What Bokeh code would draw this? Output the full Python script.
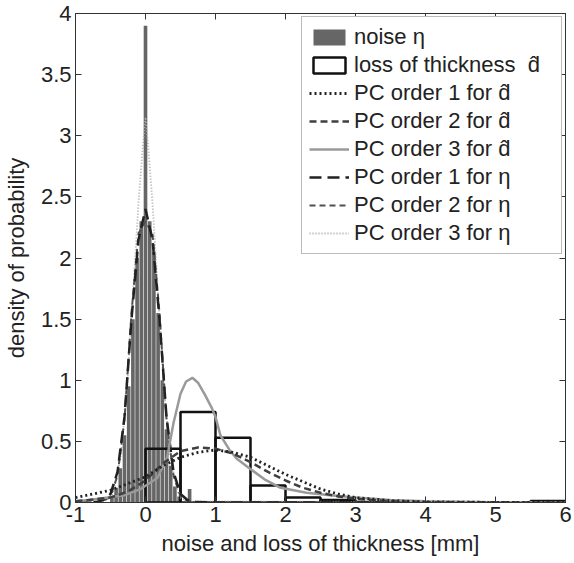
from bokeh.plotting import figure
from bokeh.models import (Range1d, FixedTicker, LinearAxis, Legend, LegendItem,
                          CustomJSTickFormatter)
from bokeh.embed import file_html
from bokeh.resources import INLINE

# ---------------- data ----------------
noise_x = [-0.48, -0.42, -0.36, -0.30, -0.24, -0.18, -0.12, -0.06, 0.0,
           0.06, 0.12, 0.18, 0.24, 0.30, 0.36, 0.42, 0.48, 0.63]
noise_y = [0.04, 0.12, 0.28, 0.55, 0.95, 1.5, 2.0, 2.3, 3.9,
           2.3, 2.05, 1.55, 1.0, 0.6, 0.3, 0.13, 0.05, 0.11]

loss_x = [0.25, 0.75, 1.25, 1.75, 2.25, 2.75, 3.25, 3.75, 4.25, 4.75, 5.25, 5.75]
loss_y = [0.44, 0.74, 0.53, 0.14, 0.04, 0.02, 0.005, 0.003, 0.002, 0.001, 0.001, 0.012]

pc1d_x = [-1, -0.5, 0, 0.25, 0.5, 0.75, 1.0, 1.25, 1.5, 1.75, 2.0, 2.25, 2.5,
          2.75, 3.0, 3.5, 4.0, 5.0, 6.0]
pc1d_y = [0.04, 0.1, 0.21, 0.3, 0.37, 0.41, 0.43, 0.41, 0.37, 0.3, 0.23, 0.17,
          0.11, 0.07, 0.04, 0.015, 0.005, 0.001, 0.0]

pc2d_x = [-1, -0.5, -0.25, 0, 0.25, 0.5, 0.75, 1.0, 1.25, 1.5, 1.75, 2.0, 2.25,
          2.5, 2.75, 3.0, 3.5, 4.0, 6.0]
pc2d_y = [0.01, 0.04, 0.09, 0.18, 0.32, 0.42, 0.45, 0.44, 0.4, 0.33, 0.25, 0.18,
          0.12, 0.08, 0.05, 0.03, 0.01, 0.003, 0.0]

pc3d_x = [-1, -0.8, -0.3, -0.07, 0.17, 0.31, 0.4, 0.5, 0.58, 0.67, 0.75, 0.85,
          0.95, 1.0, 1.07, 1.2, 1.3, 1.46, 1.7, 1.93, 2.3, 2.64, 3.0, 3.5, 4.0,
          5.0, 6.0]
pc3d_y = [0.01, 0.02, 0.06, 0.11, 0.2, 0.37, 0.65, 0.89, 0.99, 1.02, 0.98, 0.88,
          0.77, 0.7, 0.55, 0.43, 0.36, 0.29, 0.19, 0.12, 0.08, 0.06, 0.04, 0.02,
          0.01, 0.003, 0.0]

pc1n_x = [-1, -0.7, -0.6, -0.5, -0.4, -0.3, -0.2, -0.1, 0, 0.1, 0.2, 0.3, 0.4,
          0.5, 0.6, 0.7, 1.0, 6.0]
pc1n_y = [0, 0.005, 0.02, 0.07, 0.25, 0.7, 1.5, 2.15, 2.4, 2.15, 1.5, 0.7, 0.25,
          0.07, 0.02, 0.005, 0, 0]

pc2n_x = [-1, -0.7, -0.6, -0.5, -0.4, -0.3, -0.2, -0.1, 0, 0.1, 0.2, 0.3, 0.4,
          0.5, 0.6, 0.7, 1.0, 6.0]
pc2n_y = [0, 0.003, 0.012, 0.05, 0.22, 0.68, 1.55, 2.2, 2.3, 2.2, 1.55, 0.68,
          0.22, 0.05, 0.012, 0.003, 0, 0]

pc3n_x = [-1, -0.6, -0.5, -0.45, -0.35, -0.26, -0.18, -0.1, -0.04, 0, 0.04, 0.1,
          0.18, 0.26, 0.35, 0.45, 0.5, 0.6, 6.0]
pc3n_y = [0, 0.01, 0.04, 0.1, 0.4, 0.95, 1.7, 2.45, 2.9, 3.15, 2.9, 2.45, 1.7,
          0.95, 0.4, 0.1, 0.04, 0.01, 0]

x_ticks = [-1, 0, 1, 2, 3, 4, 5, 6]
y_ticks = [0, 0.5, 1, 1.5, 2, 2.5, 3, 3.5, 4]

FONT = "Liberation Sans"
AX = "#333333"

p = figure(width=574, height=563, output_backend="svg", toolbar_location=None,
           x_range=Range1d(-1, 6), y_range=Range1d(0, 4),
           min_border_left=75, min_border_right=9, min_border_top=13,
           min_border_bottom=61, background_fill_color="white",
           border_fill_color="white")
p.xgrid.visible = False
p.ygrid.visible = False
p.outline_line_color = AX
p.outline_line_width = 1

fmt = CustomJSTickFormatter(code="return tick.toString();")
for ax, ticks in ((p.xaxis[0], x_ticks), (p.yaxis[0], y_ticks)):
    ax.ticker = FixedTicker(ticks=ticks)
    ax.formatter = fmt
    ax.major_tick_in = 6
    ax.major_tick_out = 0
    ax.minor_tick_line_color = None
    ax.axis_line_color = AX
    ax.major_tick_line_color = AX
    ax.major_label_text_font = FONT
    ax.major_label_text_font_size = "22px"
    ax.major_label_text_color = "#222222"
    ax.axis_label_text_font = FONT
    ax.axis_label_text_font_size = "22px"
    ax.axis_label_text_font_style = "normal"
    ax.axis_label_text_color = "#222222"
p.xaxis.axis_label = "noise and loss of thickness [mm]"
p.yaxis.axis_label = "density of probability"
p.xaxis.major_label_standoff = 4
p.xaxis.axis_label_standoff = 6
p.yaxis.major_label_standoff = 4
p.yaxis.axis_label_standoff = 9

for loc, ticks in (("right", y_ticks), ("above", x_ticks)):
    a = LinearAxis(ticker=FixedTicker(ticks=ticks), major_tick_in=6,
                   major_tick_out=0, minor_tick_line_color=None,
                   axis_line_color=AX, major_tick_line_color=AX,
                   major_label_text_color=None,
                   major_label_text_font_size="1px", major_label_standoff=0)
    p.add_layout(a, loc)

# ---------------- glyphs ----------------
r_noise = p.vbar(x=noise_x, top=noise_y, width=0.052, bottom=0,
                 fill_color="#666666", line_color=None)
r_loss = p.vbar(x=loss_x, top=loss_y, width=0.5, bottom=0,
                fill_color=None, line_color="#111111", line_width=2.5)

r_pc3n = p.line(pc3n_x, pc3n_y, line_color="#a8a8a8", line_width=1.8, line_dash="1 2")
r_pc2n = p.line(pc2n_x, pc2n_y, line_color="#505050", line_width=2, line_dash="6 4")
r_pc1n = p.line(pc1n_x, pc1n_y, line_color="#222222", line_width=2.5, line_dash="12 6")
r_pc3d = p.line(pc3d_x, pc3d_y, line_color="#9a9a9a", line_width=2.5)
r_pc2d = p.line(pc2d_x, pc2d_y, line_color="#404040", line_width=2.5, line_dash="7 4")
r_pc1d = p.line(pc1d_x, pc1d_y, line_color="#222222", line_width=2.8, line_dash="2 3")

items = [
    LegendItem(label="noise \u03b7", renderers=[r_noise]),
    LegendItem(label="loss of thickness  d\u0302", renderers=[r_loss]),
    LegendItem(label="PC order 1 for d\u0302", renderers=[r_pc1d]),
    LegendItem(label="PC order 2 for d\u0302", renderers=[r_pc2d]),
    LegendItem(label="PC order 3 for d\u0302", renderers=[r_pc3d]),
    LegendItem(label="PC order 1 for \u03b7", renderers=[r_pc1n]),
    LegendItem(label="PC order 2 for \u03b7", renderers=[r_pc2n]),
    LegendItem(label="PC order 3 for \u03b7", renderers=[r_pc3n]),
]
legend = Legend(items=items, location="top_right", margin=3, padding=7,
                spacing=2, glyph_width=40, glyph_height=20, label_height=20,
                label_width=200, label_standoff=5, label_text_font=FONT,
                label_text_font_size="22px", label_text_color="#222222",
                border_line_color="#777777", border_line_width=1,
                background_fill_color="white", background_fill_alpha=1)
p.add_layout(legend)

open("out.html", "w").write(file_html(p, INLINE))
